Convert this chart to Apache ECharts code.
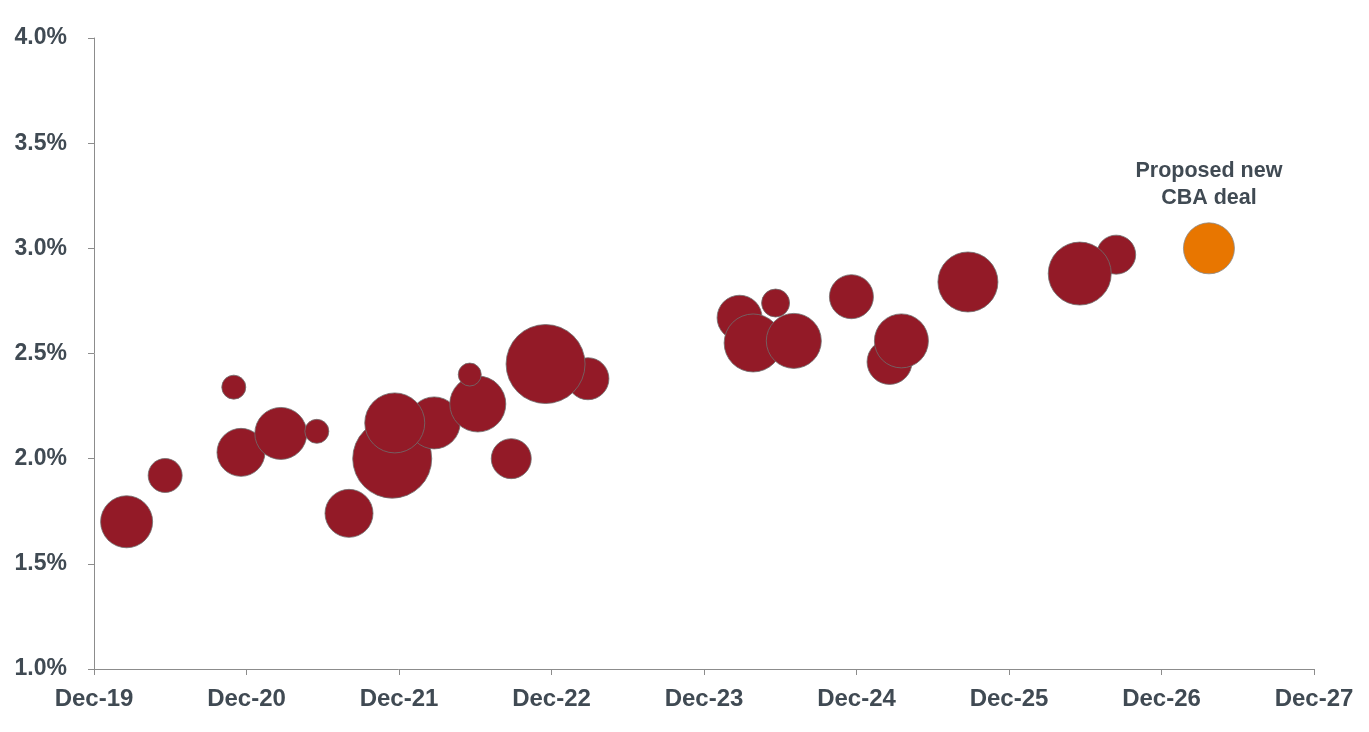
<!DOCTYPE html>
<html><head><meta charset="utf-8">
<script src="https://cdn.jsdelivr.net/npm/echarts@6/dist/echarts.min.js"></script>
<style>html,body{margin:0;padding:0;background:#fff}#c{width:1369px;height:732px}</style>
</head><body><div id="c"></div>
<script>
// Data (drawing order: later items on top)
const dealDates = ['2020-02-18','2020-05-19','2020-11-01','2020-11-18','2021-02-22','2021-05-17','2021-08-03','2021-11-15','2022-02-24','2021-11-21','2022-06-07','2022-05-18','2022-08-26','2023-02-27','2022-11-17','2024-02-25','2024-05-20','2024-03-27','2024-07-03','2025-02-19','2025-03-17','2024-11-19','2025-08-24','2026-08-14','2026-05-18'];
const dealRates = [1.70,1.92,2.34,2.03,2.12,2.13,1.74,2.00,2.17,2.17,2.26,2.40,2.00,2.38,2.45,2.67,2.74,2.55,2.56,2.46,2.56,2.77,2.84,2.97,2.88];
const dealSizes = [52,34,24,48,52,24,48,79,52,60,56,23,40,42,79,45,28,58,55,45,54,44,60,39,63];
const proposedDate = '2027-03-23';
const proposedRate = 3.00;
const proposedSize = 51;
const proposedLabel = 'Proposed new\nCBA deal';
const xTickLabels = ['Dec-19','Dec-20','Dec-21','Dec-22','Dec-23','Dec-24','Dec-25','Dec-26','Dec-27'];

// months since Dec 2019
function monthsFrom(d){
  const [y,m,day] = d.split('-').map(Number);
  return (y-2019)*12 + (m-12) + (day-1)/30;
}
const textColor = '#404a53';
const axisColor = '#8c8c8c';
const font = 'Liberation Sans, Arial, sans-serif';
const chart = echarts.init(document.getElementById('c'));
chart.setOption({
  animation:false,
  grid:{left:94,right:55,top:38,bottom:63},
  xAxis:{type:'value',min:0,max:96,interval:12,
    axisLine:{lineStyle:{color:axisColor,width:1}},
    axisTick:{show:true,length:6,lineStyle:{color:axisColor}},
    splitLine:{show:false},
    axisLabel:{margin:18,color:textColor,fontFamily:font,fontWeight:'bold',fontSize:24,
      formatter:v=>xTickLabels[Math.round(v/12)]}},
  yAxis:{type:'value',min:1,max:4,interval:0.5,
    axisLine:{show:true,lineStyle:{color:axisColor,width:1}},
    axisTick:{show:true,length:6,lineStyle:{color:axisColor}},
    splitLine:{show:false},
    axisLabel:{margin:27,color:textColor,fontFamily:font,fontWeight:'bold',fontSize:23,
      padding:[4,0,0,0],
      formatter:v=>v.toFixed(1)+'%'}},
  series:[
    {type:'scatter',
     data:dealDates.map((d,i)=>[monthsFrom(d),dealRates[i],dealSizes[i]]),
     symbolSize:v=>v[2],
     itemStyle:{color:'#931a27',opacity:1,borderColor:'#6e6e6e',borderWidth:0.8},
     z:2},
    {type:'scatter',
     data:[[monthsFrom(proposedDate),proposedRate,proposedSize]],
     symbolSize:v=>v[2],
     itemStyle:{color:'#e87600',opacity:1,borderColor:'#8a8a8a',borderWidth:0.8},
     label:{show:true,position:'top',distance:11,formatter:proposedLabel,color:textColor,
       fontFamily:font,fontWeight:'bold',fontSize:21.5,lineHeight:27,align:'center'},
     z:3}
  ]
});
</script></body></html>
